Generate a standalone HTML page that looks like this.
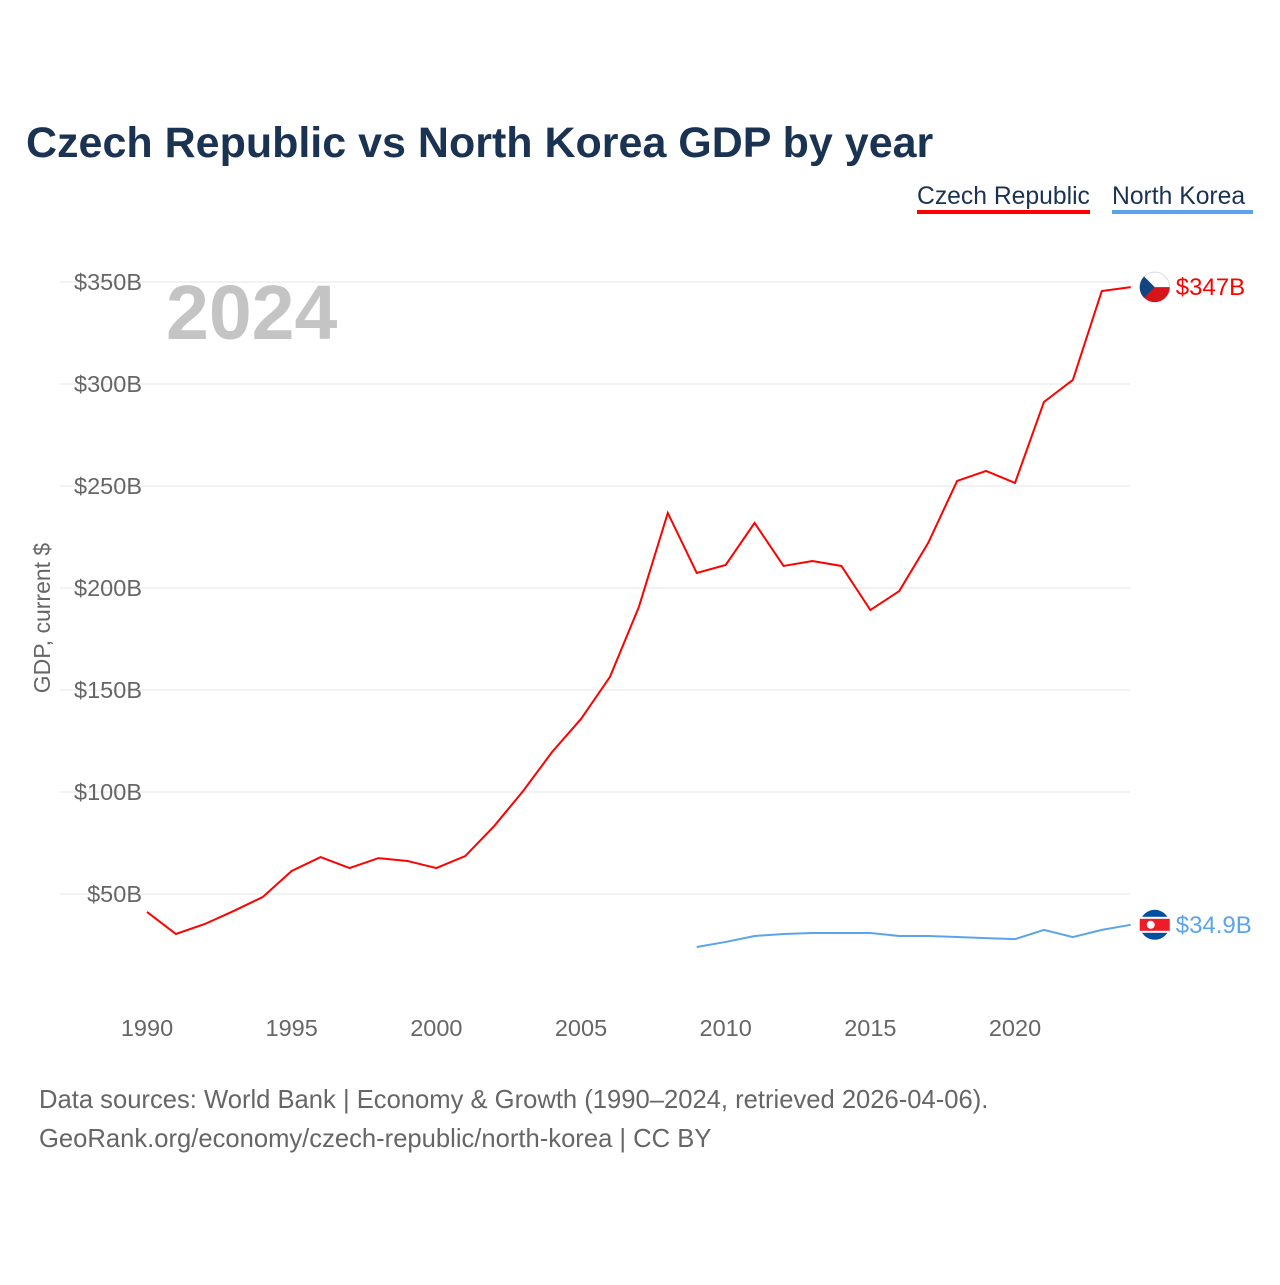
<!DOCTYPE html>
<html><head><meta charset="utf-8"><style>
body{margin:0;width:1280px;height:1280px;background:#fff;font-family:"Liberation Sans",sans-serif;overflow:hidden}
</style></head><body>
<svg width="1280" height="1280" viewBox="0 0 1280 1280">
<text x="26" y="157" font-size="43" font-weight="bold" fill="#1b3353">Czech Republic vs North Korea GDP by year</text>
<g><text x="917" y="204" font-size="24.7" fill="#1b3353">Czech Republic</text><rect x="917" y="210" width="173" height="4" fill="#ff0000"/></g>
<g><text x="1112" y="204" font-size="24.7" fill="#1b3353">North Korea</text><rect x="1112" y="210" width="141" height="4" fill="#5ba4ec"/></g>
<text x="166" y="339" font-size="77" font-weight="bold" fill="#c4c4c4">2024</text>
<text transform="translate(50,618) rotate(-90)" text-anchor="middle" font-size="23" fill="#666">GDP, current $</text>
<g id="grid"></g><g id="xt"></g><g id="lines"></g>
<text x="39" y="1108" font-size="25.6" fill="#666">Data sources: World Bank | Economy &amp; Growth (1990–2024, retrieved 2026-04-06).</text>
<text x="39" y="1147" font-size="25.6" fill="#666">GeoRank.org/economy/czech-republic/north-korea | CC BY</text>
</svg>
<script>
const years=[1990,1991,1992,1993,1994,1995,1996,1997,1998,1999,2000,2001,2002,2003,2004,2005,2006,2007,2008,2009,2010,2011,2012,2013,2014,2015,2016,2017,2018,2019,2020,2021,2022,2023,2024];
const czech=[41.2,30.4,35.3,41.7,48.5,61.3,68.1,62.7,67.6,66.2,62.7,68.6,83.3,100.5,119.6,135.8,156.4,190.7,236.8,207.4,211.3,231.9,210.8,213.2,210.8,189.2,198.5,222.1,252.5,257.4,251.5,291.2,302,345.6,347.5];
const nkYears=[2009,2010,2011,2012,2013,2014,2015,2016,2017,2018,2019,2020,2021,2022,2023,2024];
const nk=[24,26.5,29.4,30.4,30.9,30.9,30.9,29.4,29.4,28.9,28.4,27.9,32.4,28.9,32.4,34.9];
const yTicks=[50,100,150,200,250,300,350];
const xTicks=[1990,1995,2000,2005,2010,2015,2020];
const NS="http://www.w3.org/2000/svg";
const X=v=>147+(v-1990)*(868/30), Y=v=>996-v*102/50;
function mk(t,a,p){const e=document.createElementNS(NS,t);for(const k in a)e.setAttribute(k,a[k]);p.appendChild(e);return e;}
const g=document.getElementById('grid');
yTicks.forEach(v=>{const l=mk('line',{x1:60,x2:1130,y1:Y(v),y2:Y(v),stroke:'#e6e6e6'},g);


const t=mk('text',{x:142,y:Y(v)+8,'text-anchor':'end','font-size':23.5,fill:'#666'},g);t.textContent='$'+v+'B';

});
const xt=document.getElementById('xt');
xTicks.forEach(v=>{const t=mk('text',{x:X(v),y:1036,'text-anchor':'middle','font-size':23.5,fill:'#666'},xt);t.textContent=v;

});
const L=document.getElementById('lines');
function series(xs,ys,c,name,label,flag){
const p=mk('polyline',{points:xs.map((x,i)=>X(x)+','+Y(ys[i])).join(' '),fill:'none',stroke:c,'stroke-width':2},L);


const lx=X(xs[xs.length-1]),ly=Y(ys[ys.length-1]);
const f=mk('g',{},L);


flag(f,lx+24,ly);
const t=mk('text',{x:lx+45,y:ly+8,'font-size':24,fill:c},L);t.textContent=label;

}
series(years,czech,'#ff0000','czech','$347B',(f,cx,cy)=>{
mk('circle',{cx,cy,r:15,fill:'#fff',stroke:'#ddd'},f);
mk('path',{d:`M${cx-15},${cy} H${cx+15} A15,15 0 0 1 ${cx-15},${cy}Z`,fill:'#d7141a'},f);
mk('path',{d:`M${cx-10.6},${cy-10.6} L${cx},${cy} L${cx-10.6},${cy+10.6} A15,15 0 0 1 ${cx-10.6},${cy-10.6}Z`,fill:'#11457e'},f);});
series(nkYears,nk,'#5ba4ec','north-korea','$34.9B',(f,cx,cy)=>{
mk('circle',{cx,cy,r:15,fill:'#024fa2'},f);
mk('rect',{x:cx-15,y:cy-8,width:30,height:16,fill:'#fff'},f);
mk('rect',{x:cx-15,y:cy-6,width:30,height:12,fill:'#ed1c27'},f);
mk('circle',{cx:cx-4,cy,r:4,fill:'#fff'},f);});
</script>
</body></html>
